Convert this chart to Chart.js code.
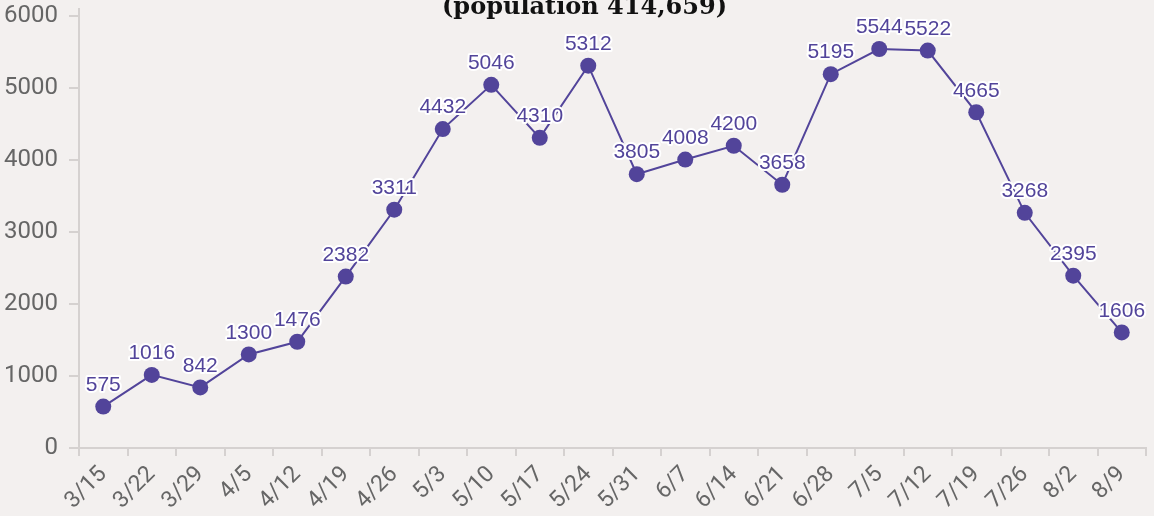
<!DOCTYPE html>
<html>
<head>
<meta charset="utf-8">
<script src="https://cdn.jsdelivr.net/npm/chart.js@4.4.1/dist/chart.umd.min.js"></script>
<style>
  html, body { margin: 0; padding: 0; background: #f3f0ef; }
  #wrap { width: 1154px; height: 516px; position: relative; }
</style>
</head>
<body>
<div id="wrap"><canvas id="chart"></canvas></div>
<script>
  const weeks = ['3/15', '3/22', '3/29', '4/5', '4/12', '4/19', '4/26', '5/3', '5/10', '5/17', '5/24',
    '5/31', '6/7', '6/14', '6/21', '6/28', '7/5', '7/12', '7/19', '7/26', '8/2', '8/9'];
  const cases = [575, 1016, 842, 1300, 1476, 2382, 3311, 4432, 5046, 4310, 5312,
    3805, 4008, 4200, 3658, 5195, 5544, 5522, 4665, 3268, 2395, 1606];
  const yTicks = [0, 1000, 2000, 3000, 4000, 5000, 6000];
  const yMax = 6100;
  const titleText = '(population 414,659)';

  const PURPLE = '#52449a';
  const AXIS = '#d5d1d0';
  const TICK_TEXT = '#666666';

  // value labels above each point, white halo like the original
  const valueLabels = {
    id: 'valueLabels',
    afterDatasetsDraw(chart) {
      const { ctx } = chart;
      const meta = chart.getDatasetMeta(0);
      ctx.save();
      ctx.font = '21px "Liberation Sans", Arial, sans-serif';
      ctx.textAlign = 'center';
      ctx.textBaseline = 'bottom';
      ctx.lineJoin = 'round';
      meta.data.forEach((pt, i) => {
        const text = String(cases[i]);
        const x = pt.x;
        const y = pt.y - 11;
        ctx.strokeStyle = '#ffffff';
        ctx.lineWidth = 4;
        ctx.strokeText(text, x, y);
        ctx.fillStyle = PURPLE;
        ctx.fillText(text, x, y);
      });
      ctx.restore();
    },
  };

  // title sits partly above the visible area
  const topTitle = {
    id: 'topTitle',
    afterDraw(chart) {
      const { ctx, chartArea } = chart;
      ctx.save();
      ctx.font = 'bold 24px "DejaVu Serif", serif';
      ctx.fillStyle = '#111111';
      ctx.textAlign = 'center';
      ctx.textBaseline = 'alphabetic';
      ctx.fillText(titleText, (chartArea.left + chartArea.right) / 2 - 28, 14);
      ctx.restore();
    },
  };

  new Chart(document.getElementById('chart'), {
    type: 'line',
    data: {
      labels: weeks,
      datasets: [{
        data: cases,
        borderColor: PURPLE,
        backgroundColor: PURPLE,
        borderWidth: 2,
        pointRadius: 8,
        pointHoverRadius: 8,
        pointBackgroundColor: PURPLE,
        pointBorderWidth: 0,
        tension: 0,
      }],
    },
    options: {
      responsive: true,
      maintainAspectRatio: false,
      animation: false,
      layout: { padding: { top: 9, right: 6, left: 0, bottom: 0 } },
      plugins: {
        legend: { display: false },
        title: { display: false },
        tooltip: { enabled: false },
      },
      scales: {
        x: {
          offset: true,
          afterFit: (axis) => { axis.height = 68; },
          grid: { display: true, offset: true, drawOnChartArea: false, drawTicks: true, tickLength: 8, color: AXIS, lineWidth: 2 },
          border: { color: AXIS, width: 2 },
          ticks: {
            color: TICK_TEXT,
            font: { family: 'Roboto', size: 23 },
            minRotation: 45,
            maxRotation: 45,
            autoSkip: false,
            padding: 5,
          },
        },
        y: {
          min: yTicks[0],
          max: yMax,
          afterFit: (axis) => {
            axis.width = 79;
            axis.paddingTop = 0;
            axis.paddingBottom = 0;
          },
          afterBuildTicks: (axis) => { axis.ticks = yTicks.map((v) => ({ value: v })); },
          grid: { display: true, drawOnChartArea: false, drawTicks: true, tickLength: 10, color: AXIS, lineWidth: 2 },
          border: { color: AXIS, width: 2 },
          ticks: {
            color: TICK_TEXT,
            font: { family: 'Roboto', size: 24 },
            padding: 11,
            callback: (v) => String(v),
          },
        },
      },
    },
    plugins: [valueLabels, topTitle],
  });
</script>
</body>
</html>
